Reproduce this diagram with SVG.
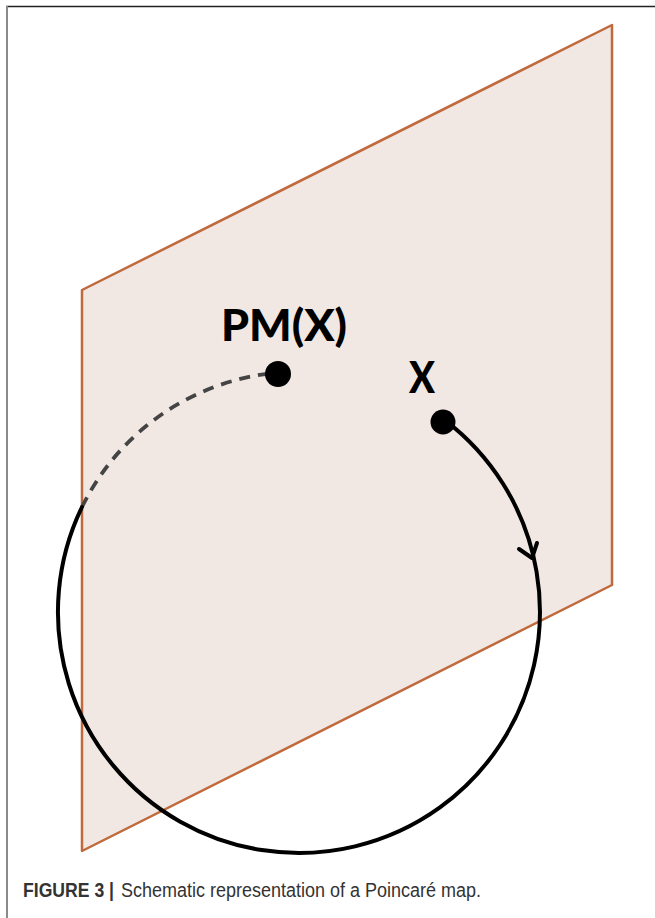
<svg xmlns="http://www.w3.org/2000/svg" width="655" height="918" viewBox="0 0 655 918">
<defs>
<style>
.plane{fill:#f2e8e3;stroke:#c0693c;stroke-width:2.5;stroke-linejoin:round}
.orbit{fill:none;stroke:#000;stroke-width:4;stroke-linecap:round}
.dash{fill:none;stroke:#444;stroke-width:3.8;stroke-dasharray:11 8}
.dot{fill:#000}
.lbl{font-family:Lato,"Open Sans","DejaVu Sans",sans-serif;font-weight:900;font-size:43px;fill:#000}
.cap{font-family:"Liberation Sans",Arial,sans-serif;font-size:20px;fill:#333}
</style>
</defs>
<rect width="655" height="918" fill="#fff"/>
<g id="frame">
<line x1="6" y1="6.5" x2="655" y2="6.5" stroke="#222" stroke-width="1.5"/>
<line x1="7" y1="6" x2="7" y2="918" stroke="#8a8a8a" stroke-width="2"/>
</g>
<g id="plane">
<polygon class="plane" points="82,290 612,25 612,585 82,851"/>
</g>
<g id="connectors">
<path class="dash" d="M 82 507 A 241 241 0 0 1 270 373.5"/>
<path class="orbit" d="M 444.8 420.1 A 241 241 0 1 1 82 507"/>
<path class="orbit" d="M 519 549 L 532 558 L 537 543" fill="none" stroke-linejoin="round"/>
</g>
<g id="node-pmx">
<circle class="dot" cx="278" cy="374" r="13"/>
<text class="lbl" x="221" y="341" textLength="126" lengthAdjust="spacingAndGlyphs">PM(X)</text>
</g>
<g id="node-x">
<circle class="dot" cx="443" cy="422" r="12.5"/>
<text class="lbl" x="409" y="393" textLength="26" lengthAdjust="spacingAndGlyphs">X</text>
</g>
<g id="caption">
<text class="cap" x="23" y="897" font-weight="bold" fill="#222" textLength="91" lengthAdjust="spacingAndGlyphs">FIGURE 3 |</text>
<text class="cap" x="121" y="897" textLength="360" lengthAdjust="spacingAndGlyphs">Schematic representation of a Poincaré map.</text>
</g>
</svg>
